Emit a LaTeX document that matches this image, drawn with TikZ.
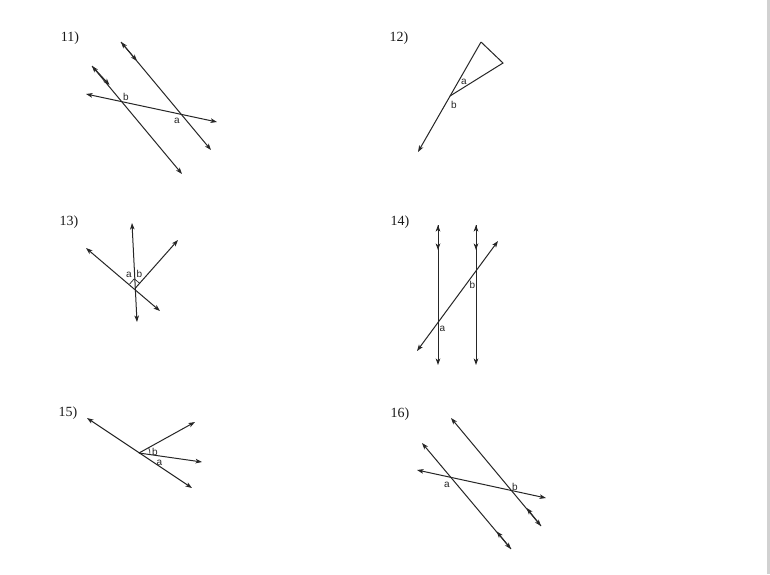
\documentclass[tikz,border=0pt]{standalone}
\usepackage{fontspec}
\setmainfont{Liberation Serif}
\newfontfamily\lblfont{Liberation Sans}
\usetikzlibrary{arrows.meta,calc}
\tikzset{
  tp/.tip={Stealth[length=6.5pt,width=4.6pt,inset=1.7pt]},
  geo/.style={line width=1pt,draw=black!85},
  dbl/.style={geo,{tp}-{tp}},
  ray/.style={geo,-{tp}},
  mk/.style={geo,-{tp}},
  lbl/.style={inner sep=0pt,font=\lblfont\fontsize{10}{10}\selectfont,text=black!85},
  num/.style={inner sep=0pt,font=\fontsize{14}{14}\selectfont,text=black!90}
}
\begin{document}
\begin{tikzpicture}[x=1pt,y=-1pt]
\useasboundingbox (0,0) rectangle (770,574);
\fill[white] (0,0) rectangle (770,574);
\fill[black!18] (767,0) rectangle (770,574);

% ---------- 11 ----------
\node[num] (n11) at (70,38) {11)};
\coordinate (a1t) at (92,66);
\coordinate (a1b) at (182,174);
\coordinate (a1m) at (109.5,85);
\coordinate (b1t) at (121,42);
\coordinate (b1b) at (211,150);
\coordinate (b1m) at (137,61);
\coordinate (t1l) at (86,94);
\coordinate (t1r) at (217,122);
\draw[dbl] (a1t) -- (a1b);
\draw[mk] (a1t) -- (a1m);
\draw[dbl] (b1t) -- (b1b);
\draw[mk] (b1t) -- (b1m);
\draw[dbl] (t1l) -- (t1r);
\node[lbl] (l11b) at (126,96.5) {b};
\node[lbl] (l11a) at (177,121) {a};

% ---------- 12 ----------
\node[num] (n12) at (399,38) {12)};
\coordinate (p12) at (481,42);
\coordinate (r12) at (503,63);
\coordinate (q12) at (450,96);
\coordinate (e12) at (418,152);
\draw[geo,line join=miter] (q12) -- (r12) -- (p12);
\draw[ray] (p12) -- (e12);
\node[lbl] (l12a) at (464,82) {a};
\node[lbl] (l12b) at (454,104.5) {b};

% ---------- 13 ----------
\node[num] (n13) at (69,222) {13)};
\coordinate (o13) at (135,288.5);
\coordinate (v13t) at (132,223);
\coordinate (v13b) at (137,322);
\coordinate (ul13) at (86,248);
\coordinate (lr13) at (160,311);
\coordinate (ur13) at (178,240);
\draw[dbl] (v13t) -- (v13b);
\draw[dbl] (ul13) -- (lr13);
\draw[ray] (o13) -- (ur13);
\coordinate (c13a) at ($(o13)!7pt!(ul13)$);
\coordinate (c13b) at ($(o13)!7pt!(ur13)$);
\coordinate (c13c) at ($(c13a)+(c13b)-(o13)$);
\draw[geo,line width=0.7pt] (c13a) -- (c13c) -- (c13b);
\node[lbl] (l13a) at (129,275) {a};
\node[lbl] (l13b) at (139.5,274) {b};

% ---------- 14 ----------
\node[num] (n14) at (400,222) {14)};
\coordinate (l14t) at (438,225);
\coordinate (l14b) at (438,365);
\coordinate (l14m) at (438,250);
\coordinate (r14t) at (476,225);
\coordinate (r14b) at (476,365);
\coordinate (r14m) at (476,250);
\coordinate (t14l) at (417,351);
\coordinate (t14r) at (498,241);
\draw[dbl] (l14t) -- (l14b);
\draw[mk] (l14t) -- (l14m);
\draw[dbl] (r14t) -- (r14b);
\draw[mk] (r14t) -- (r14m);
\draw[dbl] (t14l) -- (t14r);
\node[lbl] (l14a) at (442.5,329) {a};
\node[lbl] (l14b2) at (472.5,285) {b};

% ---------- 15 ----------
\node[num] (n15) at (68,413) {15)};
\coordinate (v15) at (139,453);
\coordinate (ul15) at (87,418);
\coordinate (lr15) at (192,488);
\coordinate (ur15) at (195,422);
\coordinate (rr15) at (202,462);
\draw[dbl] (ul15) -- (lr15);
\draw[ray] (v15) -- (ur15);
\draw[ray] (v15) -- (rr15);
\draw[geo,line width=0.7pt] ($(v15)!11pt!(rr15)$) arc[start angle=8,end angle=-29,radius=11];
\node[lbl] (l15b) at (155,451.5) {b};
\node[lbl] (l15a) at (159.5,463) {a};

% ---------- 16 ----------
\node[num] (n16) at (400,414) {16)};
\coordinate (a16t) at (422,443);
\coordinate (a16b) at (511,549);
\coordinate (a16m) at (496.7,531.4);
\coordinate (b16t) at (451,418);
\coordinate (b16b) at (541,526);
\coordinate (b16m) at (526.7,508);
\coordinate (t16l) at (417,470);
\coordinate (t16r) at (546,498);
\draw[dbl] (a16t) -- (a16b);
\draw[mk] (a16b) -- (a16m);
\draw[dbl] (b16t) -- (b16b);
\draw[mk] (b16b) -- (b16m);
\draw[dbl] (t16l) -- (t16r);
\node[lbl] (l16a) at (447,485) {a};
\node[lbl] (l16b) at (515,487) {b};
\end{tikzpicture}
\end{document}
